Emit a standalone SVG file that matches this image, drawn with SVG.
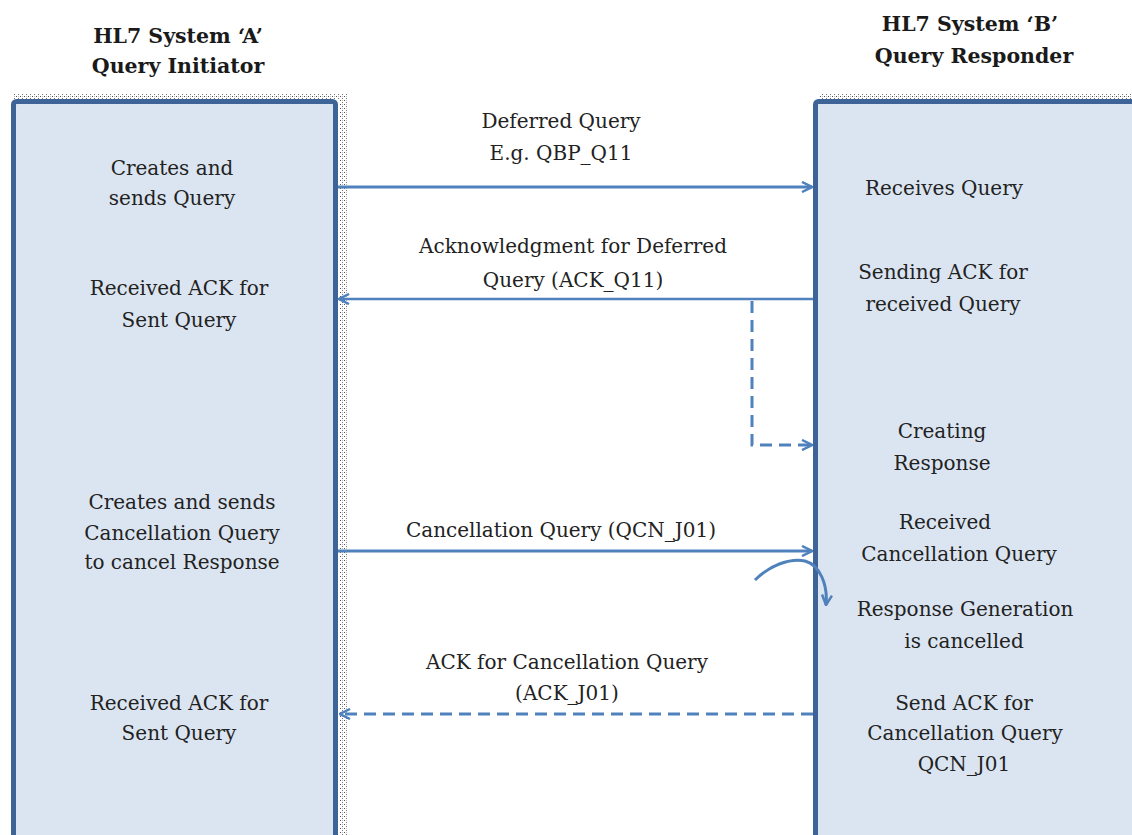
<svg xmlns="http://www.w3.org/2000/svg" width="1132" height="835" viewBox="0 0 1132 835">
  <style>
    .hdr { font-family: "DejaVu Serif", "Liberation Serif", serif; font-size: 20.5px; font-weight: bold; fill: #1a1a1a; text-anchor: middle; }
    .lbl { font-family: "DejaVu Serif", "Liberation Serif", serif; font-size: 20px; fill: #222; text-anchor: middle; }
    .lane { fill: #DBE5F1; stroke: #3E6497; stroke-width: 5; }
    .msg { fill: none; stroke: #4F81BD; stroke-width: 3; }
    .thin { stroke-width: 2.4; }
    .dash { stroke-dasharray: 12 7; }
  </style>
  <defs>
    <pattern id="dots" width="4" height="4" patternUnits="userSpaceOnUse">
      <rect x="0" y="0" width="1" height="1" fill="#555"/>
      <rect x="2" y="2" width="1" height="1" fill="#777"/>
      <rect x="2" y="0" width="1" height="1" fill="#bbb"/>
    </pattern>
    <marker id="open" viewBox="0 0 12 12" refX="11" refY="6" markerWidth="12" markerHeight="12" markerUnits="userSpaceOnUse" orient="auto">
      <path d="M1,1 L11,6 L1,11" fill="none" stroke="#4F81BD" stroke-width="2.5"/>
    </marker>
  </defs>

  <!-- System A lifeline -->
  <g id="system-a">
    <rect x="14" y="93" width="332" height="6" fill="url(#dots)"/>
    <rect x="339" y="93" width="8" height="742" fill="url(#dots)"/>
    <rect class="lane" x="13.5" y="101.5" width="322" height="740" rx="3"/>
    <text class="hdr" x="178" y="43">HL7 System ‘A’</text>
    <text class="hdr" x="178" y="73">Query Initiator</text>
    <text class="lbl" x="172" y="175">Creates and</text>
    <text class="lbl" x="172" y="205">sends Query</text>
    <text class="lbl" x="179" y="295">Received ACK for</text>
    <text class="lbl" x="179" y="327">Sent Query</text>
    <text class="lbl" x="182" y="509">Creates and sends</text>
    <text class="lbl" x="182" y="540">Cancellation Query</text>
    <text class="lbl" x="182" y="569">to cancel Response</text>
    <text class="lbl" x="179" y="710">Received ACK for</text>
    <text class="lbl" x="179" y="740">Sent Query</text>
  </g>

  <!-- System B lifeline -->
  <g id="system-b">
    <rect x="820" y="93" width="312" height="6" fill="url(#dots)"/>
    <rect class="lane" x="815.5" y="101.5" width="330" height="740" rx="3"/>
    <text class="hdr" x="970" y="31">HL7 System ‘B’</text>
    <text class="hdr" x="974" y="63">Query Responder</text>
    <text class="lbl" x="944" y="195">Receives Query</text>
    <text class="lbl" x="943" y="279">Sending ACK for</text>
    <text class="lbl" x="943" y="311">received Query</text>
    <text class="lbl" x="942" y="438">Creating</text>
    <text class="lbl" x="942" y="470">Response</text>
    <text class="lbl" x="945" y="529">Received</text>
    <text class="lbl" x="959" y="561">Cancellation Query</text>
    <text class="lbl" x="965" y="616">Response Generation</text>
    <text class="lbl" x="964" y="648">is cancelled</text>
    <text class="lbl" x="964" y="710">Send ACK for</text>
    <text class="lbl" x="965" y="740">Cancellation Query</text>
    <text class="lbl" x="964" y="771">QCN_J01</text>
  </g>

  <!-- Messages between the systems -->
  <g id="connectors">
    <path class="msg" d="M338,187 L812,187" marker-end="url(#open)"/>
    <text class="lbl" x="561" y="128">Deferred Query</text>
    <text class="lbl" x="561" y="160">E.g. QBP_Q11</text>

    <path class="msg thin" d="M813,299 L339,299" marker-end="url(#open)"/>
    <text class="lbl" x="573" y="253">Acknowledgment for Deferred</text>
    <text class="lbl" x="573" y="287">Query (ACK_Q11)</text>

    <path class="msg dash" d="M752,301 L752,445 L812,445" marker-end="url(#open)"/>

    <path class="msg" d="M338,551 L812,551" marker-end="url(#open)"/>
    <text class="lbl" x="561" y="537">Cancellation Query (QCN_J01)</text>

    <path class="msg" d="M755,580 C770,565 790,558 805,561 C820,565 828,585 826,605" marker-end="url(#open)"/>

    <path class="msg dash" d="M813,714 L340,714" marker-end="url(#open)"/>
    <text class="lbl" x="567" y="669">ACK for Cancellation Query</text>
    <text class="lbl" x="567" y="700">(ACK_J01)</text>
  </g>
</svg>
